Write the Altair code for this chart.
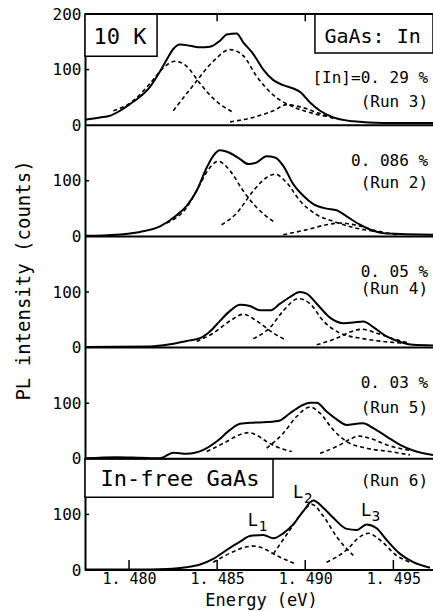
import altair as alt
import pandas as pd

FONT = "DejaVu Sans Mono"

# ---------------- data (E in eV, intensity in counts) ----------------
# Run 3, [In] = 0.29 %
r3_E = [1.47750, 1.47835, 1.47892, 1.47949, 1.48005, 1.48062, 1.48119, 1.48176, 1.48214, 1.48251,
        1.48289, 1.48346, 1.48403, 1.48459, 1.48516, 1.48554, 1.48611, 1.48648, 1.48705, 1.48762,
        1.48819, 1.48875, 1.48932, 1.48970, 1.49027, 1.49084, 1.49159, 1.49273, 1.49443, 1.49725]
r3_I = [10, 14, 17, 26, 38, 51, 69, 97, 118, 137, 145, 143, 140, 141, 152, 163, 165, 149, 128, 100,
        81, 72, 66, 60, 41, 26, 14, 7, 4, 4]
r3_d1_E = [1.47911, 1.48024, 1.48119, 1.48194, 1.48261, 1.48327, 1.48403, 1.48478, 1.48592]
r3_d1_I = [26, 44, 75, 103, 115, 106, 75, 48, 23]
r3_d2_E = [1.48251, 1.48365, 1.48478, 1.48573, 1.48648, 1.48724, 1.48819, 1.48932, 1.49046, 1.49159]
r3_d2_I = [26, 72, 115, 136, 125, 88, 54, 33, 21, 14]
r3_d3_E = [1.48573, 1.48705, 1.48819, 1.48894, 1.48970, 1.49065, 1.49159]
r3_d3_I = [6, 14, 26, 37, 33, 23, 12]

# Run 2, 0.086 %
r2_E = [1.47750, 1.47930, 1.48062, 1.48176, 1.48270, 1.48327, 1.48384, 1.48441, 1.48478, 1.48516,
        1.48573, 1.48630, 1.48677, 1.48724, 1.48781, 1.48828, 1.48875, 1.48932, 1.48989, 1.49046,
        1.49121, 1.49178, 1.49235, 1.49311, 1.49386, 1.49462, 1.49725]
r2_I = [1, 3, 8, 18, 38, 55, 82, 124, 145, 155, 150, 139, 130, 133, 144, 142, 127, 94, 73, 58,
        50, 47, 36, 21, 10, 5, 3]
r2_d1_E = [1.48214, 1.48327, 1.48403, 1.48459, 1.48507, 1.48573, 1.48648, 1.48724, 1.48819]
r2_d1_I = [24, 52, 94, 124, 135, 118, 82, 52, 27]
r2_d2_E = [1.48525, 1.48611, 1.48705, 1.48781, 1.48828, 1.48894, 1.48970, 1.49065, 1.49159, 1.49273, 1.49424]
r2_d2_I = [21, 42, 82, 106, 112, 97, 64, 39, 27, 16, 8]
r2_d3_E = [1.48875, 1.49008, 1.49121, 1.49197, 1.49292, 1.49405, 1.49519]
r2_d3_I = [3, 12, 21, 24, 20, 10, 3]

# Run 4, 0.05 %
r4_E = [1.47750, 1.48119, 1.48232, 1.48327, 1.48403, 1.48459, 1.48516, 1.48573, 1.48630, 1.48686,
        1.48743, 1.48800, 1.48857, 1.48913, 1.48970, 1.49008, 1.49065, 1.49140, 1.49216, 1.49273,
        1.49329, 1.49386, 1.49462, 1.49538, 1.49613, 1.49725]
r4_I = [1, 2, 6, 12, 17, 29, 48, 66, 77, 75, 67, 67, 79, 91, 100, 97, 79, 54, 44, 45,
        47, 37, 20, 10, 5, 4]
r4_d1_E = [1.48384, 1.48478, 1.48573, 1.48648, 1.48724, 1.48819, 1.48894]
r4_d1_I = [11, 26, 48, 60, 48, 26, 13]
r4_d2_E = [1.48705, 1.48800, 1.48875, 1.48961, 1.49027, 1.49102, 1.49197, 1.49311, 1.49443, 1.49556]
r4_d2_I = [16, 36, 66, 88, 79, 48, 26, 17, 11, 8]
r4_d3_E = [1.49065, 1.49178, 1.49254, 1.49320, 1.49405, 1.49500, 1.49594]
r4_d3_I = [5, 17, 28, 33, 26, 16, 8]

# Run 5, 0.03 %
r5_E = [1.47750, 1.47930, 1.48062, 1.48176, 1.48251, 1.48327, 1.48422, 1.48497, 1.48573, 1.48630,
        1.48705, 1.48781, 1.48857, 1.48913, 1.48970, 1.49027, 1.49065, 1.49121, 1.49178, 1.49235,
        1.49292, 1.49329, 1.49386, 1.49462, 1.49538, 1.49613, 1.49670, 1.49725]
r5_I = [1, 3, 2, 1, 11, 9, 16, 31, 52, 63, 65, 66, 69, 82, 94, 101, 101, 85, 71, 61,
        63, 64, 55, 40, 25, 15, 10, 7]
r5_d1_E = [1.48441, 1.48554, 1.48611, 1.48677, 1.48733, 1.48781, 1.48857, 1.48923]
r5_d1_I = [13, 31, 41, 47, 41, 31, 19, 13]
r5_d2_E = [1.48781, 1.48875, 1.48951, 1.49027, 1.49084, 1.49159, 1.49235, 1.49348, 1.49481, 1.49594]
r5_d2_I = [19, 46, 76, 93, 82, 52, 31, 19, 13, 7]
r5_d3_E = [1.49084, 1.49178, 1.49254, 1.49301, 1.49367, 1.49462, 1.49594]
r5_d3_I = [10, 22, 35, 41, 37, 25, 15]

# Run 6, In-free GaAs
r6_E = [1.47750, 1.48024, 1.48214, 1.48327, 1.48403, 1.48478, 1.48554, 1.48630, 1.48686, 1.48762,
        1.48819, 1.48875, 1.48932, 1.48989, 1.49046, 1.49102, 1.49159, 1.49235, 1.49292, 1.49348,
        1.49405, 1.49462, 1.49538, 1.49613, 1.49708]
r6_I = [1, 1, 2, 5, 10, 20, 36, 51, 61, 63, 57, 66, 82, 106, 125, 112, 94, 74, 72, 82,
        75, 54, 29, 14, 4]
r6_d1_E = [1.48478, 1.48592, 1.48648, 1.48705, 1.48762, 1.48819, 1.48951]
r6_d1_I = [14, 33, 40, 43, 39, 29, 10]
r6_d2_E = [1.48819, 1.48913, 1.48989, 1.49037, 1.49102, 1.49178, 1.49273]
r6_d2_I = [29, 72, 106, 118, 97, 60, 26]
r6_d3_E = [1.49121, 1.49235, 1.49311, 1.49358, 1.49424, 1.49519, 1.49594]
r6_d3_I = [14, 36, 60, 66, 54, 26, 14]

x_ticks = [1.480, 1.485, 1.490, 1.495]

# ---------------- layout: panels stacked in one plot, 200 counts per panel ----------------
E_MIN, E_MAX = 1.4775, 1.49725
PANEL = 200
offsets = {"Run 3": 4 * PANEL, "Run 2": 3 * PANEL, "Run 4": 2 * PANEL, "Run 5": PANEL, "Run 6": 0}

solid_sets = {"Run 3": (r3_E, r3_I), "Run 2": (r2_E, r2_I), "Run 4": (r4_E, r4_I),
              "Run 5": (r5_E, r5_I), "Run 6": (r6_E, r6_I)}
dashed_sets = {
    "Run 3": [(r3_d1_E, r3_d1_I), (r3_d2_E, r3_d2_I), (r3_d3_E, r3_d3_I)],
    "Run 2": [(r2_d1_E, r2_d1_I), (r2_d2_E, r2_d2_I), (r2_d3_E, r2_d3_I)],
    "Run 4": [(r4_d1_E, r4_d1_I), (r4_d2_E, r4_d2_I), (r4_d3_E, r4_d3_I)],
    "Run 5": [(r5_d1_E, r5_d1_I), (r5_d2_E, r5_d2_I), (r5_d3_E, r5_d3_I)],
    "Run 6": [(r6_d1_E, r6_d1_I), (r6_d2_E, r6_d2_I), (r6_d3_E, r6_d3_I)],
}

rows = []
for run, (es, vals) in solid_sets.items():
    for i, (e, v) in enumerate(zip(es, vals)):
        rows.append({"E": e, "Y": v + offsets[run], "key": run + " total", "o": i})
solid_df = pd.DataFrame(rows)

rows = []
for run, comps in dashed_sets.items():
    for k, (es, vals) in enumerate(comps):
        for i, (e, v) in enumerate(zip(es, vals)):
            rows.append({"E": e, "Y": v + offsets[run], "key": f"{run} L{k+1}", "o": i})
dashed_df = pd.DataFrame(rows)

xs = alt.Scale(domain=[E_MIN, E_MAX], nice=False, zero=False)
ys = alt.Scale(domain=[0, 5 * PANEL], nice=False, zero=False)

x_axis = alt.Axis(values=x_ticks, labelExpr="replace(format(datum.value, '.3f'), '.', '. ')",
                  ticks=False, tickSize=0, domain=False, grid=False, labelFlush=False,
                  labelFont=FONT, labelFontSize=15, labelColor="black", labelPadding=1,
                  title="Energy (eV)", titleFont=FONT, titleFontSize=17, titleFontWeight="normal",
                  titleColor="black", titleX=176, titleY=35, titleAlign="center",
                  titleBaseline="alphabetic")
y_axis = alt.Axis(values=list(range(0, 5 * PANEL + 1, 100)),
                  labelExpr="datum.value == 1000 ? '200' : (datum.value % 200 == 0 ? '0' : '100')",
                  ticks=False, tickSize=0, domain=True, domainColor="black", domainWidth=2,
                  grid=False, labelFlush=False, labelOverlap=False,
                  labelFont=FONT, labelFontSize=16, labelColor="black", labelPadding=4,
                  title="PL intensity (counts)", titleFont=FONT, titleFontSize=19,
                  titleFontWeight="normal", titleColor="black", titleAngle=270,
                  titleX=-62, titleY=266, titleAlign="center", titleBaseline="middle")

X = alt.X("E:Q", scale=xs, axis=x_axis)
Y = alt.Y("Y:Q", scale=ys, axis=y_axis)

solid = alt.Chart(solid_df).mark_line(color="black", strokeWidth=2, interpolate="monotone").encode(
    x=X, y=Y, detail="key:N", order="o:Q")
dashed = alt.Chart(dashed_df).mark_line(color="black", strokeWidth=1.6, strokeDash=[4, 3],
                                        interpolate="monotone").encode(
    x=X, y=Y, detail="key:N", order="o:Q")

# panel baselines and frame
base_df = pd.DataFrame({"E": [E_MIN] * 6, "E2": [E_MAX] * 6, "Y": [0, 200, 400, 600, 800, 1000]})
baselines = alt.Chart(base_df).mark_rule(color="black", strokeWidth=2).encode(
    x=X, x2="E2:Q", y=Y)

# inward ticks
top_ticks_df = pd.DataFrame({"E": x_ticks, "Y": [1000] * 4, "Y2": [987] * 4})
bot_ticks_df = pd.DataFrame({"E": x_ticks, "Y": [0] * 4, "Y2": [18] * 4})
ticks_top = alt.Chart(top_ticks_df).mark_rule(color="black", strokeWidth=1.5).encode(x=X, y=Y, y2="Y2:Q")
ticks_bot = alt.Chart(bot_ticks_df).mark_rule(color="black", strokeWidth=1.5).encode(x=X, y=Y, y2="Y2:Q")
ytick_df = pd.DataFrame({"E": [E_MIN] * 5, "E2": [E_MIN + 0.00023] * 5, "Y": [100, 300, 500, 700, 900]})
ticks_y = alt.Chart(ytick_df).mark_rule(color="black", strokeWidth=1.5).encode(x=X, x2="E2:Q", y=Y)

# label boxes
box_df = pd.DataFrame({"E": [E_MIN, 1.49055, E_MIN], "E2": [1.48159, E_MAX, 1.48817],
                       "Y": [924, 930, 131], "Y2": [1000, 1000, 200]})
boxes = alt.Chart(box_df).mark_rect(fill="white", stroke="black", strokeWidth=1.5).encode(
    x=X, x2="E2:Q", y=Y, y2="Y2:Q")

big_txt_df = pd.DataFrame({"E": [1.47949, 1.49382, 1.48289], "Y": [959, 959, 163],
                           "t": ["10 K", "GaAs: In", "In-free GaAs"], "s": [22, 20, 22]})
big_txt = alt.Chart(big_txt_df).mark_text(font=FONT, color="black", align="center",
                                          baseline="middle").encode(
    x=X, y=Y, text="t:N", size=alt.Size("s:Q", scale=None, legend=None))

right_txt_df = pd.DataFrame({
    "E": [1.49697] * 9,
    "Y": [885, 842, 736, 696, 536, 505, 336, 291, 160],
    "t": ["[In]=0. 29 %", "(Run 3)", "0. 086 %", "(Run 2)", "0. 05 %", "(Run 4)",
          "0. 03 %", "(Run 5)", "(Run 6)"]})
right_txt = alt.Chart(right_txt_df).mark_text(font=FONT, fontSize=16, color="black", align="right",
                                              baseline="middle").encode(x=X, y=Y, text="t:N")

peak_df = pd.DataFrame({"E": [1.48703, 1.48960, 1.49345], "Y": [88, 138, 106],
                        "t": ["L", "L", "L"], "sub": ["1", "2", "3"]})
peak_L = alt.Chart(peak_df).mark_text(font=FONT, fontSize=17, color="black", align="center",
                                      baseline="middle").encode(x=X, y=Y, text="t:N")
peak_sub = alt.Chart(peak_df).mark_text(font=FONT, fontSize=14, color="black", align="center",
                                        baseline="middle", dx=10, dy=6).encode(x=X, y=Y, text="sub:N")

chart = alt.layer(
    solid, dashed, ticks_top, ticks_bot, ticks_y, boxes, baselines,
    big_txt, right_txt, peak_L, peak_sub
).properties(
    width=348, height=556,
    padding={"left": 85, "top": 14, "right": 0, "bottom": 41},
    autosize=alt.AutoSizeParams(type="none"),
    background="white",
).configure_view(stroke=None)

chart.save("out.html", embed_options={"renderer": "svg", "actions": False})
